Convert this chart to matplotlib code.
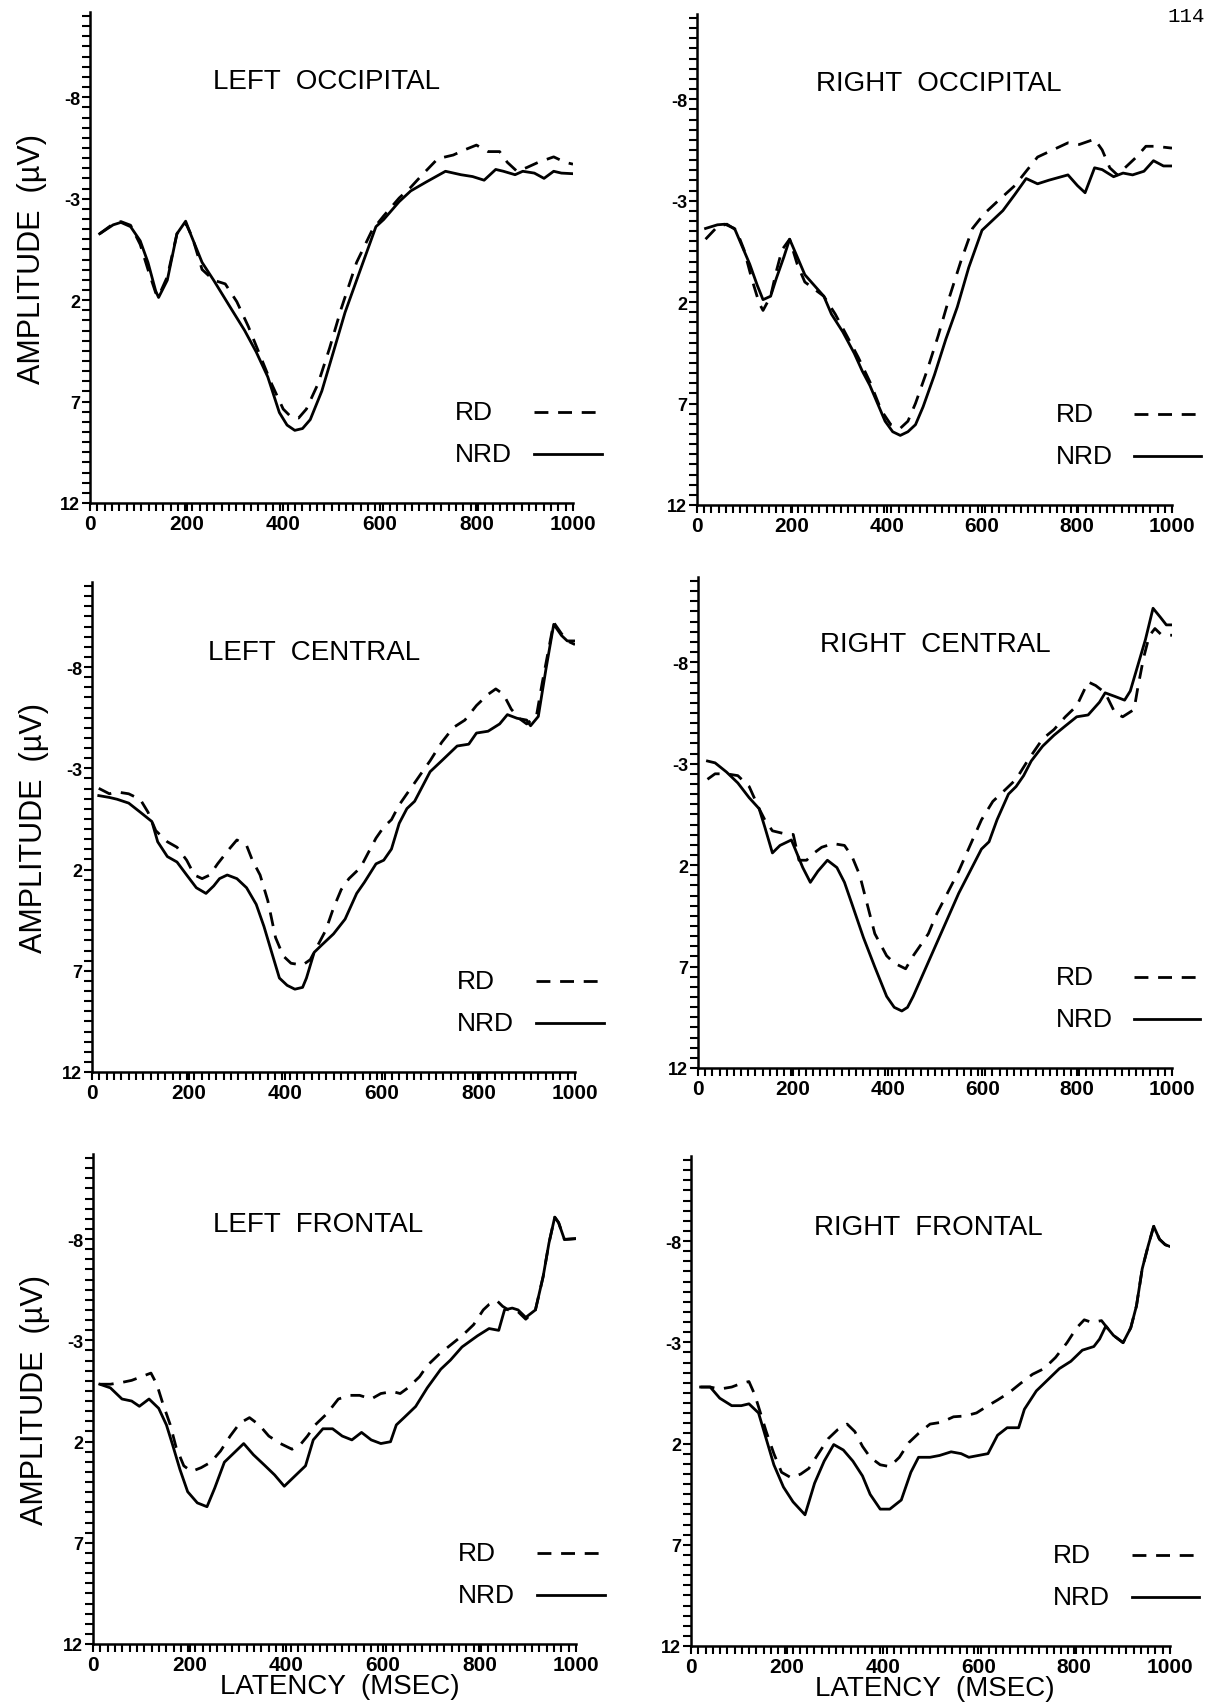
import numpy as np
import matplotlib.pyplot as plt
from matplotlib.ticker import FixedLocator

# ---- data: latency (ms) and amplitude (uV) ----
# left occipital
lo_nrd_t = [20, 48, 64, 84, 104, 120, 136, 142, 160, 180, 198, 208, 232, 256, 288, 320, 344, 368, 392, 408,
            424, 440, 456, 480, 504, 528, 560, 592, 608, 640, 664, 696, 736, 768, 792, 816, 840, 856, 880, 896,
            920, 940, 960, 976, 1000]
lo_nrd = [-1.27, -1.71, -1.83, -1.62, -0.92, 0.14, 1.55, 1.87, 1.02, -1.27, -1.89, -1.27, 0.14, 1.02, 2.26,
          3.49, 4.55, 5.78, 7.54, 8.16, 8.42, 8.33, 7.89, 6.48, 4.55, 2.61, 0.49, -1.62, -1.97, -2.85, -3.38,
          -3.82, -4.35, -4.18, -4.09, -3.91, -4.44, -4.35, -4.18, -4.35, -4.26, -4.00, -4.35, -4.26, -4.23]
lo_rd_t = [20, 48, 64, 84, 104, 120, 136, 142, 160, 180, 198, 212, 232, 256, 280, 304, 328, 352, 376, 400,
           416, 432, 448, 472, 496, 520, 552, 584, 608, 640, 664, 688, 720, 752, 776, 800, 824, 848, 864, 884,
           904, 928, 960, 984, 1000]
lo_rd = [-1.27, -1.76, -1.87, -1.69, -0.74, 0.49, 1.64, 1.81, 0.85, -1.27, -1.80, -1.09, 0.49, 1.02, 1.20,
         2.08, 3.31, 4.72, 6.13, 7.37, 7.75, 7.81, 7.37, 6.13, 4.37, 2.43, 0.14, -1.44, -2.15, -3.03, -3.56,
         -4.18, -4.97, -5.15, -5.41, -5.64, -5.32, -5.32, -4.79, -4.35, -4.53, -4.79, -5.06, -4.79, -4.70]

# right occipital
ro_nrd_t = [18, 43, 59, 79, 95, 111, 127, 139, 155, 167, 183, 195, 211, 227, 247, 267, 283, 307, 331, 348,
            364, 380, 396, 412, 428, 444, 460, 476, 500, 524, 548, 572, 600, 620, 644, 669, 693, 717, 741, 781,
            801, 817, 837, 853, 877, 897, 917, 941, 961, 982, 1000]
ro_nrd = [-1.63, -1.81, -1.84, -1.63, -0.75, 0.13, 1.18, 1.88, 1.71, 0.83, -0.23, -1.10, -0.23, 0.65, 1.18,
          1.71, 2.59, 3.47, 4.52, 5.40, 6.11, 6.99, 7.87, 8.39, 8.57, 8.39, 8.04, 7.16, 5.58, 3.82, 2.24,
          0.30, -1.54, -1.98, -2.51, -3.30, -4.09, -3.83, -4.01, -4.27, -3.74, -3.39, -4.62, -4.53, -4.18,
          -4.36, -4.27, -4.45, -4.97, -4.71, -4.71]
ro_rd_t = [18, 43, 63, 83, 99, 115, 131, 139, 155, 167, 179, 195, 211, 227, 247, 267, 291, 315, 339, 364,
           388, 408, 428, 444, 460, 484, 508, 532, 556, 580, 604, 636, 669, 693, 717, 749, 781, 805, 837, 853,
           869, 885, 901, 925, 945, 965, 1000]
ro_rd = [-1.10, -1.72, -1.84, -1.54, -0.58, 0.83, 2.06, 2.41, 1.71, 0.48, -0.58, -1.10, 0.13, 1.01, 1.36,
         1.71, 2.59, 3.64, 4.70, 5.93, 7.34, 8.04, 8.22, 7.87, 6.99, 5.40, 3.64, 1.71, -0.05, -1.63, -2.34,
         -3.04, -3.74, -4.45, -5.15, -5.50, -5.85, -5.77, -6.03, -5.50, -4.62, -4.27, -4.62, -5.15, -5.68,
         -5.68, -5.59]

# left central
lc_nrd_t = [14, 36, 52, 76, 100, 124, 136, 156, 176, 196, 216, 236, 252, 264, 280, 300, 320, 340, 356, 372,
            388, 404, 420, 436, 444, 460, 476, 500, 524, 548, 564, 588, 604, 620, 636, 652, 668, 684, 700, 724,
            756, 780, 796, 820, 844, 860, 880, 900, 908, 924, 940, 956, 972, 984, 1000]
lc_nrd = [-1.65, -1.56, -1.47, -1.28, -0.83, -0.37, 0.63, 1.36, 1.63, 2.27, 2.90, 3.18, 2.81, 2.45, 2.27,
          2.45, 2.90, 3.72, 4.81, 6.09, 7.36, 7.72, 7.91, 7.82, 7.36, 6.09, 5.72, 5.18, 4.45, 3.18, 2.63,
          1.72, 1.54, 0.99, -0.28, -1.01, -1.37, -2.10, -2.83, -3.37, -4.10, -4.19, -4.74, -4.83, -5.19,
          -5.65, -5.47, -5.38, -5.10, -5.56, -7.92, -10.11, -9.56, -9.29, -9.29]
lc_rd_t = [14, 36, 52, 76, 100, 116, 132, 156, 176, 196, 212, 228, 244, 260, 284, 300, 320, 332, 348, 364,
           380, 396, 412, 436, 452, 468, 484, 500, 516, 532, 556, 572, 588, 604, 620, 636, 652, 668, 684, 700,
           724, 748, 772, 796, 820, 836, 852, 868, 884, 900, 920, 932, 948, 956, 972, 984, 1000]
lc_rd = [-2.01, -1.74, -1.83, -1.74, -1.46, -0.83, 0.08, 0.63, 0.90, 1.54, 2.27, 2.45, 2.27, 1.72, 0.99,
         0.54, 0.81, 1.54, 2.27, 3.54, 5.36, 6.27, 6.63, 6.72, 6.45, 5.72, 5.00, 3.90, 2.99, 2.45, 1.90,
         1.17, 0.45, -0.10, -0.46, -1.19, -1.74, -2.28, -2.83, -3.37, -4.28, -5.01, -5.38, -6.10, -6.65,
         -6.92, -6.65, -5.92, -5.47, -5.19, -5.56, -7.20, -9.20, -10.20, -9.65, -9.29, -9.11]

# right central
rc_nrd_t = [20, 36, 60, 84, 108, 129, 141, 157, 173, 197, 205, 221, 237, 253, 273, 293, 309, 325, 349, 373,
            398, 414, 430, 442, 454, 478, 502, 526, 550, 574, 598, 614, 631, 655, 671, 687, 703, 727, 751, 775,
            799, 823, 847, 859, 880, 900, 912, 928, 944, 960, 976, 988, 1000]
rc_nrd = [-3.13, -3.04, -2.59, -2.05, -1.32, -0.78, 0.13, 1.40, 1.03, 0.76, 1.21, 2.12, 2.85, 2.30, 1.76,
          2.12, 2.85, 3.93, 5.57, 7.02, 8.47, 9.01, 9.19, 9.01, 8.47, 7.20, 5.93, 4.66, 3.39, 2.30, 1.21,
          0.85, -0.24, -1.50, -1.87, -2.41, -3.13, -3.86, -4.40, -4.86, -5.31, -5.40, -6.03, -6.49, -6.31,
          -6.13, -6.58, -7.85, -9.12, -10.66, -10.20, -9.84, -9.84]
rc_rd_t = [20, 36, 60, 84, 108, 129, 141, 157, 173, 189, 201, 213, 229, 245, 261, 285, 309, 325, 341, 357,
           373, 398, 414, 438, 454, 470, 486, 502, 526, 550, 574, 598, 622, 647, 671, 695, 727, 751, 775, 799,
           823, 839, 859, 880, 896, 920, 928, 940, 952, 964, 976, 988, 1000]
rc_rd = [-2.23, -2.50, -2.50, -2.41, -1.87, -0.78, -0.23, 0.31, 0.40, 0.49, 0.49, 1.76, 1.76, 1.40, 1.12,
         0.94, 1.03, 1.58, 2.48, 3.93, 5.38, 6.47, 6.83, 7.11, 6.47, 5.93, 5.38, 4.48, 3.39, 2.30, 1.03,
         -0.23, -1.14, -1.69, -2.23, -3.13, -4.22, -4.68, -5.31, -5.85, -7.03, -6.85, -6.49, -5.49, -5.31,
         -5.67, -6.76, -8.21, -9.30, -9.66, -9.39, -9.33, -9.33]

# left frontal
lf_nrd_t = [14, 36, 60, 80, 96, 116, 136, 152, 164, 180, 196, 216, 236, 252, 272, 292, 312, 332, 356, 376,
            396, 416, 440, 456, 476, 496, 516, 536, 556, 576, 596, 616, 628, 644, 668, 692, 720, 740, 764, 796,
            820, 840, 852, 868, 880, 896, 916, 932, 944, 956, 964, 976, 1000]
lf_nrd = [-0.83, -0.65, -0.10, 0.00, 0.26, -0.10, 0.36, 1.18, 2.10, 3.38, 4.48, 5.03, 5.22, 4.30, 3.02,
          2.56, 2.10, 2.65, 3.19, 3.65, 4.21, 3.75, 3.20, 1.92, 1.37, 1.37, 1.73, 1.92, 1.55, 1.92, 2.10,
          2.01, 1.18, 0.82, 0.27, -0.65, -1.57, -2.02, -2.67, -3.22, -3.58, -3.49, -4.50, -4.59, -4.50,
          -4.13, -4.50, -6.15, -7.80, -9.08, -8.81, -7.98, -8.02]
lf_rd_t = [14, 36, 60, 80, 100, 120, 132, 144, 160, 172, 188, 204, 224, 244, 264, 284, 304, 324, 344, 364,
           388, 412, 428, 444, 460, 484, 508, 532, 552, 576, 596, 620, 636, 652, 676, 692, 716, 740, 764, 788,
           808, 820, 836, 848, 860, 880, 896, 916, 932, 944, 956, 964, 976, 1000]
lf_rd = [-0.83, -0.83, -0.92, -1.02, -1.20, -1.38, -0.83, 0.08, 1.18, 2.28, 3.20, 3.48, 3.29, 3.02, 2.47,
         1.73, 1.09, 0.82, 1.18, 1.73, 2.10, 2.38, 2.19, 1.73, 1.18, 0.63, -0.10, -0.28, -0.28, -0.10,
         -0.37, -0.47, -0.37, -0.65, -1.20, -1.75, -2.30, -2.76, -3.22, -3.77, -4.50, -4.77, -4.96, -4.68,
         -4.50, -4.41, -4.04, -4.50, -6.15, -7.80, -9.08, -8.81, -7.98, -8.02]

# right frontal
rf_nrd_t = [20, 40, 60, 85, 105, 121, 141, 157, 173, 193, 213, 238, 258, 278, 298, 318, 338, 358, 374, 395,
            415, 439, 459, 475, 499, 519, 543, 564, 580, 600, 620, 640, 660, 684, 696, 721, 745, 769, 793, 817,
            841, 853, 866, 882, 902, 918, 930, 942, 954, 966, 978, 990, 1000]
rf_nrd = [-0.79, -0.79, -0.24, 0.13, 0.13, 0.04, 0.49, 1.77, 3.05, 4.15, 4.88, 5.52, 3.96, 2.87, 2.05,
          2.32, 2.87, 3.60, 4.51, 5.24, 5.24, 4.79, 3.42, 2.68, 2.68, 2.59, 2.41, 2.50, 2.68, 2.59, 2.50,
          1.59, 1.22, 1.22, 0.31, -0.60, -1.15, -1.70, -2.06, -2.61, -2.79, -3.16, -3.80, -3.34, -2.98,
          -3.71, -4.80, -6.63, -7.73, -8.73, -8.09, -7.82, -7.73]
rf_rd_t = [20, 40, 60, 85, 105, 121, 133, 145, 157, 173, 189, 209, 229, 246, 266, 286, 306, 326, 342, 358,
           374, 395, 415, 435, 455, 475, 499, 523, 548, 572, 596, 620, 640, 664, 688, 713, 737, 761, 785, 805,
           821, 837, 857, 866, 882, 902, 918, 930, 942, 954, 966, 978, 990, 1000]
rf_rd = [-0.79, -0.79, -0.69, -0.79, -0.97, -1.06, -0.42, 0.49, 1.41, 2.50, 3.42, 3.69, 3.51, 3.23, 2.50,
         1.77, 1.32, 1.04, 1.41, 2.14, 2.68, 3.05, 3.14, 2.68, 1.95, 1.50, 1.04, 0.95, 0.68, 0.64, 0.49,
         0.13, -0.15, -0.51, -0.97, -1.42, -1.70, -2.25, -2.98, -3.71, -4.11, -3.98, -4.07, -3.80, -3.34,
         -2.98, -3.71, -4.80, -6.63, -7.73, -8.73, -8.09, -7.82, -7.73]

titles = ["LEFT  OCCIPITAL", "RIGHT  OCCIPITAL", "LEFT  CENTRAL", "RIGHT  CENTRAL",
          "LEFT  FRONTAL", "RIGHT  FRONTAL"]
nrd_t = [lo_nrd_t, ro_nrd_t, lc_nrd_t, rc_nrd_t, lf_nrd_t, rf_nrd_t]
nrd_v = [lo_nrd, ro_nrd, lc_nrd, rc_nrd, lf_nrd, rf_nrd]
rd_t = [lo_rd_t, ro_rd_t, lc_rd_t, rc_rd_t, lf_rd_t, rf_rd_t]
rd_v = [lo_rd, ro_rd, lc_rd, rc_rd, lf_rd, rf_rd]
y_ticks = [-8, -3, 2, 7, 12]
x_ticks = [0, 200, 400, 600, 800, 1000]

# ---- layout (pixel boxes: left, right, top, bottom) ----
W, H = 1210, 1708
boxes = [(90, 573, 13, 504), (697, 1172, 15, 506),
         (92, 575, 583, 1073), (698, 1172, 578, 1069),
         (93, 576, 1155, 1645), (691, 1170, 1157, 1647)]
title_pos = [(0.49, 0.86), (0.51, 0.86), (0.46, 0.857), (0.50, 0.864), (0.466, 0.857), (0.495, 0.855)]

plt.rcParams['font.family'] = ['Liberation Sans', 'DejaVu Sans']
fig = plt.figure(figsize=(W / 100, H / 100), dpi=100)

for i in range(6):
    l, r, t, b = boxes[i]
    ax = fig.add_axes([l / W, 1 - b / H, (r - l) / W, (b - t) / H])
    ax.plot(nrd_t[i], nrd_v[i], color='black', lw=2.0, solid_joinstyle='round')
    ax.plot(rd_t[i], rd_v[i], color='black', lw=2.0, linestyle=(0, (5, 3.5)))
    ax.set_xlim(0, 1000)
    ax.set_ylim(12, -12.2)
    for s in ['top', 'right']:
        ax.spines[s].set_visible(False)
    for s in ['left', 'bottom']:
        ax.spines[s].set_linewidth(1.8)
    ax.set_xticks(x_ticks)
    ax.set_yticks(y_ticks)
    ax.set_yticklabels(['-8', '-3', '2', '7', '12'])
    ax.xaxis.set_minor_locator(FixedLocator(np.linspace(0, 1000, 67)))
    ax.yaxis.set_minor_locator(FixedLocator(np.arange(-12, 12.01, 0.5)))
    ax.tick_params(axis='both', which='both', direction='out', width=1.5, length=6)
    ax.tick_params(axis='x', labelsize=15, pad=2)
    ax.tick_params(axis='y', labelsize=13, pad=1)
    for lab in ax.get_xticklabels() + ax.get_yticklabels():
        lab.set_fontweight('bold')

    ax.text(title_pos[i][0], title_pos[i][1], titles[i], transform=ax.transAxes,
            ha='center', va='center', fontsize=20)

    # key at lower right
    ax.text(0.755, 0.185, 'RD', transform=ax.transAxes, ha='left', va='center', fontsize=19)
    ax.text(0.755, 0.10, 'NRD', transform=ax.transAxes, ha='left', va='center', fontsize=19)
    ax.plot([0.92, 1.055], [0.185, 0.185], transform=ax.transAxes, clip_on=False,
            color='black', lw=2.0, linestyle=(0, (5, 3.5)))
    ax.plot([0.92, 1.06], [0.10, 0.10], transform=ax.transAxes, clip_on=False,
            color='black', lw=2.0)

    if i % 2 == 0:
        ax.set_ylabel('AMPLITUDE  (\u00b5V)', fontsize=22)
        ax.yaxis.set_label_coords(-0.09, 0.5)
    if i >= 4:
        ax.set_xlabel('LATENCY  (MSEC)', fontsize=20)
        ax.xaxis.set_label_coords(0.51, -0.06)

fig.text(1205 / W, 1 - 16 / H, '114', ha='right', va='center', fontsize=15,
         family='Liberation Mono')

fig.savefig('out.png', dpi=100)
